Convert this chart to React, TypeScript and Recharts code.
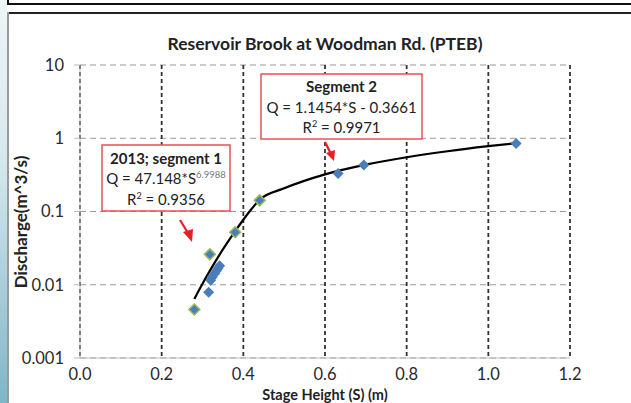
import React from 'react';
import {
  ComposedChart,
  Scatter,
  Line,
  XAxis,
  YAxis,
  CartesianGrid,
  Label
} from 'recharts';

// stage height (m) and discharge (m^3/s)
const stageAll = [0.28, 0.315, 0.318, 0.32, 0.324, 0.33, 0.334, 0.338, 0.342, 0.38, 0.44, 0.632, 0.695, 1.068];
const flowAll = [0.0046, 0.0079, 0.026, 0.0115, 0.0128, 0.0142, 0.0155, 0.0168, 0.0182, 0.052, 0.142, 0.33, 0.43, 0.85];

// 2013 points (green outline)
const stage2013 = [0.28, 0.318, 0.38, 0.44];
const flow2013 = [0.0046, 0.026, 0.052, 0.142];

// fitted rating curve
const curveStage = [0.28, 0.3, 0.32, 0.34, 0.36, 0.38, 0.4, 0.42, 0.44, 0.5, 0.6, 0.7, 0.8, 0.9, 1.0, 1.068];
const curveFlow = [0.0064, 0.0103, 0.0162, 0.0248, 0.0369, 0.0539, 0.0772, 0.108, 0.145, 0.207, 0.321, 0.436, 0.55, 0.665, 0.779, 0.857];

const xTicks = [0, 0.2, 0.4, 0.6, 0.8, 1.0, 1.2];
const yTicks = [0.001, 0.01, 0.1, 1, 10];

const allData = stageAll.map((s, i) => ({ s, q: flowAll[i] }));
const data2013 = stage2013.map((s, i) => ({ s, q: flow2013[i] }));
const curveData = curveStage.map((s, i) => ({ s, q: curveFlow[i] }));

const FONT = 'Lato, "Open Sans", sans-serif';
const BLUE = '#4a7ebb';
const RED = '#e8525a';

// square diamond marker like Excel's
const Diamond = (props: any) => {
  const { cx, cy, fill, stroke, strokeWidth } = props;
  const r = 5.5;
  return (
    <polygon
      points={`${cx},${cy - r} ${cx + r},${cy} ${cx},${cy + r} ${cx - r},${cy}`}
      fill={fill}
      stroke={stroke || 'none'}
      strokeWidth={strokeWidth}
    />
  );
};

export default function App() {
  return (
    <div style={{ position: 'fixed', left: 0, top: 0, width: 631, height: 403, background: '#fff', overflow: 'hidden', fontFamily: FONT }}>
      {/* slide background strip + frames */}
      <div style={{ position: 'absolute', left: 0, top: 0, width: 7, height: 403, background: 'linear-gradient(#eef5f8, #d6e8ee 40%, #7fb6c6)' }} />
      <div style={{ position: 'absolute', left: 7, top: -4, width: 630, height: 9, border: '2px solid #111', boxSizing: 'border-box' }} />
      <div style={{ position: 'absolute', left: 7, top: 12, width: 630, height: 2, background: '#222' }} />
      <div style={{ position: 'absolute', left: 7, top: 12, width: 2, height: 400, background: '#9a9a9a' }} />

      <div style={{ position: 'absolute', left: 0, top: 0 }}>
        <ComposedChart width={631} height={403} margin={{ top: 65, right: 61, bottom: 0, left: 0 }}>
          <CartesianGrid horizontal={true} vertical={false} stroke="#999" strokeDasharray="6 4" horizontalValues={yTicks} />
          <CartesianGrid horizontal={false} vertical={true} stroke="#333" strokeWidth={1.8} strokeDasharray="4 3" verticalValues={xTicks} />
          <XAxis
            dataKey="s"
            type="number"
            domain={[0, 1.2]}
            ticks={xTicks}
            tickFormatter={(v: number) => v.toFixed(1)}
            height={45}
            stroke="#bbb"
            tickSize={0}
            tickMargin={10}
            tick={{ fill: '#2a2a2a', fontSize: 16.5, fontFamily: FONT }}
          >
            <Label value="Stage Height (S) (m)" position="insideBottom" offset={3.5} fill="#222" fontSize={14.5} fontWeight="bold" fontFamily={FONT} />
          </XAxis>
          <YAxis
            dataKey="q"
            type="number"
            scale="log"
            domain={[0.001, 10]}
            allowDataOverflow
            ticks={yTicks}
            width={80}
            stroke="#bbb"
            tickSize={6}
            tickMargin={10}
            tick={{ fill: '#2a2a2a', fontSize: 16.5, fontFamily: FONT }}
          />
          <Scatter data={allData} dataKey="q" shape={<Diamond />} fill={BLUE} isAnimationActive={false} />
          <Scatter data={data2013} dataKey="q" shape={<Diamond />} fill={BLUE} stroke="#9bbb59" strokeWidth={1.5} isAnimationActive={false} />
          <Line data={curveData} dataKey="q" type="monotone" stroke="#000" strokeWidth={2.2} dot={false} isAnimationActive={false} />
        </ComposedChart>
      </div>

      {/* titles, annotation boxes and arrows */}
      <svg width={631} height={403} style={{ position: 'absolute', left: 0, top: 0, pointerEvents: 'none' }} fontFamily={FONT}>
        <text x={325} y={50} textAnchor="middle" fontSize={17.5} fontWeight="bold" fill="#222">Reservoir Brook at Woodman Rd. (PTEB)</text>
        <text x={27} y={222} textAnchor="middle" fontSize={17} fontWeight="bold" fill="#222" transform="rotate(-90 27 222)">Discharge(m^3/s)</text>

        <rect x={261} y={74} width={161} height={65} fill="#fff" stroke={RED} strokeWidth={1.5} />
        <text x={341.5} y={92} textAnchor="middle" fontSize={15} fontWeight="bold" fill="#222">Segment 2</text>
        <text x={341.5} y={112.5} textAnchor="middle" fontSize={15} fill="#222">Q = 1.1454*S - 0.3661</text>
        <text x={341.5} y={133} textAnchor="middle" fontSize={15} fill="#222">R<tspan dy={-6} fontSize={9}>2</tspan><tspan dy={6}> = 0.9971</tspan></text>

        <rect x={102} y={145} width={128} height={66} fill="#fff" stroke={RED} strokeWidth={1.5} />
        <text x={166} y={163.5} textAnchor="middle" fontSize={15} fontWeight="bold" fill="#222">2013; segment 1</text>
        <text x={166} y={183.5} textAnchor="middle" fontSize={15} fill="#222">Q = 47.148*S<tspan dy={-6} fontSize={9.5} fill="#777">6.9988</tspan></text>
        <text x={166} y={205} textAnchor="middle" fontSize={15} fill="#222">R<tspan dy={-6} fontSize={9}>2</tspan><tspan dy={6}> = 0.9356</tspan></text>

        <g stroke="#ee1c24" strokeWidth={2.2} fill="#ee1c24">
          <line x1={325} y1={142} x2={331} y2={154} />
          <polygon points="326,153 334,161 335,150" stroke="none" />
          <line x1={180} y1={220} x2={188} y2={233} />
          <polygon points="183,232 192,242 193,229" stroke="none" />
        </g>
      </svg>
    </div>
  );
}
